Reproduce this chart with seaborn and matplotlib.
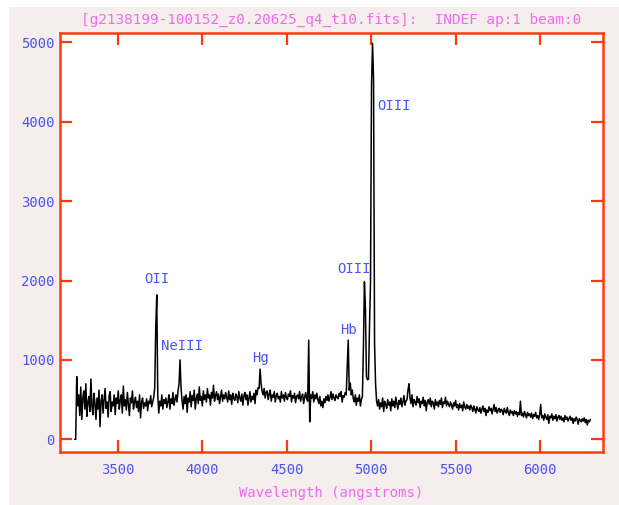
import numpy as np
import pandas as pd
import matplotlib
matplotlib.use("Agg")
import matplotlib.pyplot as plt
from matplotlib.patches import Rectangle
import seaborn as sns

# ---------------- data ----------------
wl_start = 3244.0   # Angstrom, first sample
wl_step = 6.0       # Angstrom per sample

flux = [
    0, 0, 790, 420, 560, 300, 660, 250, 520, 610,
    380, 700, 290, 470, 540, 350, 760, 420, 310, 580,
    450, 250, 520, 380, 620, 160, 480, 560, 330, 500,
    640, 390, 470, 280, 550, 600, 350, 470, 420, 560,
    310, 520, 450, 610, 380, 490, 560, 330, 670, 420,
    500, 370, 590, 440, 300, 520, 460, 610, 380, 470,
    530, 400, 480, 350, 560, 270, 470, 520, 390, 460,
    420, 510, 360, 480, 450, 550, 410, 470, 530, 650,
    1400, 1820, 560, 330, 480, 420, 560, 380, 500, 450,
    520, 400, 470, 560, 380, 510, 450, 590, 430, 500,
    560, 470, 610, 700, 1000, 640, 480, 380, 540, 450,
    560, 340, 520, 470, 600, 410, 550, 490, 620, 380,
    510, 570, 450, 660, 490, 540, 420, 610, 500, 560,
    470, 640, 520, 560, 430, 590, 520, 680, 480, 550,
    600, 500, 570, 450, 540, 620, 480, 560, 510, 590,
    530, 470, 610, 500, 560, 440, 580, 520, 490, 570,
    540, 460, 600, 520, 480, 570, 430, 550, 590, 500,
    560, 430, 520, 600, 470, 540, 500, 580, 450, 620,
    560, 650, 640, 885, 700, 600, 560, 640, 520, 590,
    610, 500, 570, 620, 480, 560, 530, 600, 470, 550,
    580, 510, 540, 470, 600, 520, 560, 480, 590, 530,
    500, 570, 540, 610, 470, 550, 520, 580, 460, 540,
    560, 510, 600, 480, 540, 570, 450, 530, 590, 510,
    480, 1250, 220, 560, 520, 600, 470, 560, 510, 580,
    500, 450, 540, 420, 480, 400, 510, 460, 540, 490,
    560, 480, 530, 600, 500, 570, 520, 490, 560, 530,
    510, 580, 540, 600, 470, 550, 530, 590, 560, 910,
    1250, 620, 710, 560, 620, 510, 470, 560, 430, 520,
    480, 560, 420, 500, 540, 1160, 1985, 1650, 790, 750,
    760, 1420, 1970, 4460, 4990, 4550, 1210, 700, 480, 420,
    500, 380, 460, 410, 520, 350, 480, 440, 390, 500,
    430, 470, 360, 510, 420, 480, 400, 530, 450, 380,
    490, 440, 520, 410, 470, 550, 430, 480, 500, 620,
    700, 520, 450, 560, 410, 500, 470, 430, 540, 460,
    510, 400, 480, 450, 530, 420, 490, 360, 470, 500,
    440, 520, 410, 480, 460, 380, 500, 430, 470, 410,
    490, 440, 520, 400, 470, 450, 530, 420, 480, 440,
    410, 470, 430, 380, 460, 420, 490, 400, 440, 370,
    450, 400, 430, 360, 470, 410, 380, 440, 390, 420,
    370, 430, 400, 350, 420, 380, 330, 410, 370, 350,
    400, 330, 380, 420, 350, 390, 300, 370, 340, 410,
    360, 390, 320, 380, 440, 350, 400, 330, 370, 390,
    340, 380, 360, 310, 390, 350, 330, 400, 340, 300,
    370, 330, 350, 300, 360, 320, 350, 290, 340, 310,
    480, 300, 330, 280, 350, 310, 270, 340, 300, 320,
    280, 330, 260, 310, 290, 340, 270, 300, 250, 310,
    440, 270, 300, 240, 320, 280, 250, 310, 200, 290,
    270, 320, 240, 290, 260, 310, 230, 280, 300, 250,
    290, 240, 270, 220, 300, 250, 280, 230, 260, 290,
    240, 270, 200, 260, 230, 280, 250, 190, 260, 240,
    220, 260, 230, 270, 210, 250, 180, 240, 220, 250,
]
wavelength = wl_start + wl_step * np.arange(len(flux))

line_labels = ["OII", "NeIII", "Hg", "Hb", "OIII", "OIII"]
label_x = [3731, 3879, 4345, 4868, 4900, 5137]
label_y = [2015, 1175, 1020, 1377, 2141, 4198]

x_ticks = [3500, 4000, 4500, 5000, 5500, 6000]
y_ticks = [0, 1000, 2000, 3000, 4000, 5000]

title_text = "[g2138199-100152_z0.20625_q4_t10.fits]:  INDEF ap:1 beam:0"
xlabel_text = "Wavelength (angstroms)"

# ---------------- style ----------------
sns.set_style("white")
plt.rcParams["font.family"] = ["DejaVu Sans Mono", "DejaVu Sans"]

W, H = 619, 505
RED = "#ff3a10"
BLUE = "#4a55f0"
MAG = "#f26af2"
PINK = "#f6eded"

fig = plt.figure(figsize=(W / 100, H / 100), dpi=100, facecolor="white")
bg = Rectangle((9 / W, 0), 1, (H - 7) / H, transform=fig.transFigure,
               facecolor=PINK, edgecolor="none", zorder=-10)
fig.patches.append(bg)

left, right, top, bottom = 59.5, 603.0, 32.5, 452.0
ax = fig.add_axes([left / W, (H - bottom) / H, (right - left) / W, (bottom - top) / H])
ax.set_zorder(5)
ax.set_facecolor("white")

df = pd.DataFrame({"wavelength": wavelength, "flux": flux})
sns.lineplot(data=df, x="wavelength", y="flux", ax=ax, color="black",
             linewidth=1.1, sort=False, estimator=None)

ax.set_xlim(3154, 6373)
ax.set_ylim(-160, 5126)
ax.set_xticks(x_ticks)
ax.set_yticks(y_ticks)
ax.set_xlabel("")
ax.set_ylabel("")

for s in ax.spines.values():
    s.set_color(RED)
    s.set_linewidth(1.8)
    s.set_visible(True)

ax.tick_params(axis="both", which="major", direction="in", length=8.5, width=1.6,
               color=RED, labelcolor=BLUE, labelsize=10,
               top=True, right=True, bottom=True, left=True)
ax.tick_params(axis="x", pad=8)
ax.tick_params(axis="y", pad=3.5)

for lab, lx, ly in zip(line_labels, label_x, label_y):
    ax.text(lx, ly, lab, color=BLUE, fontsize=10, ha="center", va="center")

fig.text(((left + right) / 2) / W, 1 - 20 / H, title_text, color=MAG, fontsize=10.4,
         ha="center", va="center", zorder=6)
fig.text(((left + right) / 2) / W, 1 - 493 / H, xlabel_text, color=MAG, fontsize=10,
         ha="center", va="center", zorder=6)

fig.savefig("out.png", dpi=100, facecolor=fig.get_facecolor())
